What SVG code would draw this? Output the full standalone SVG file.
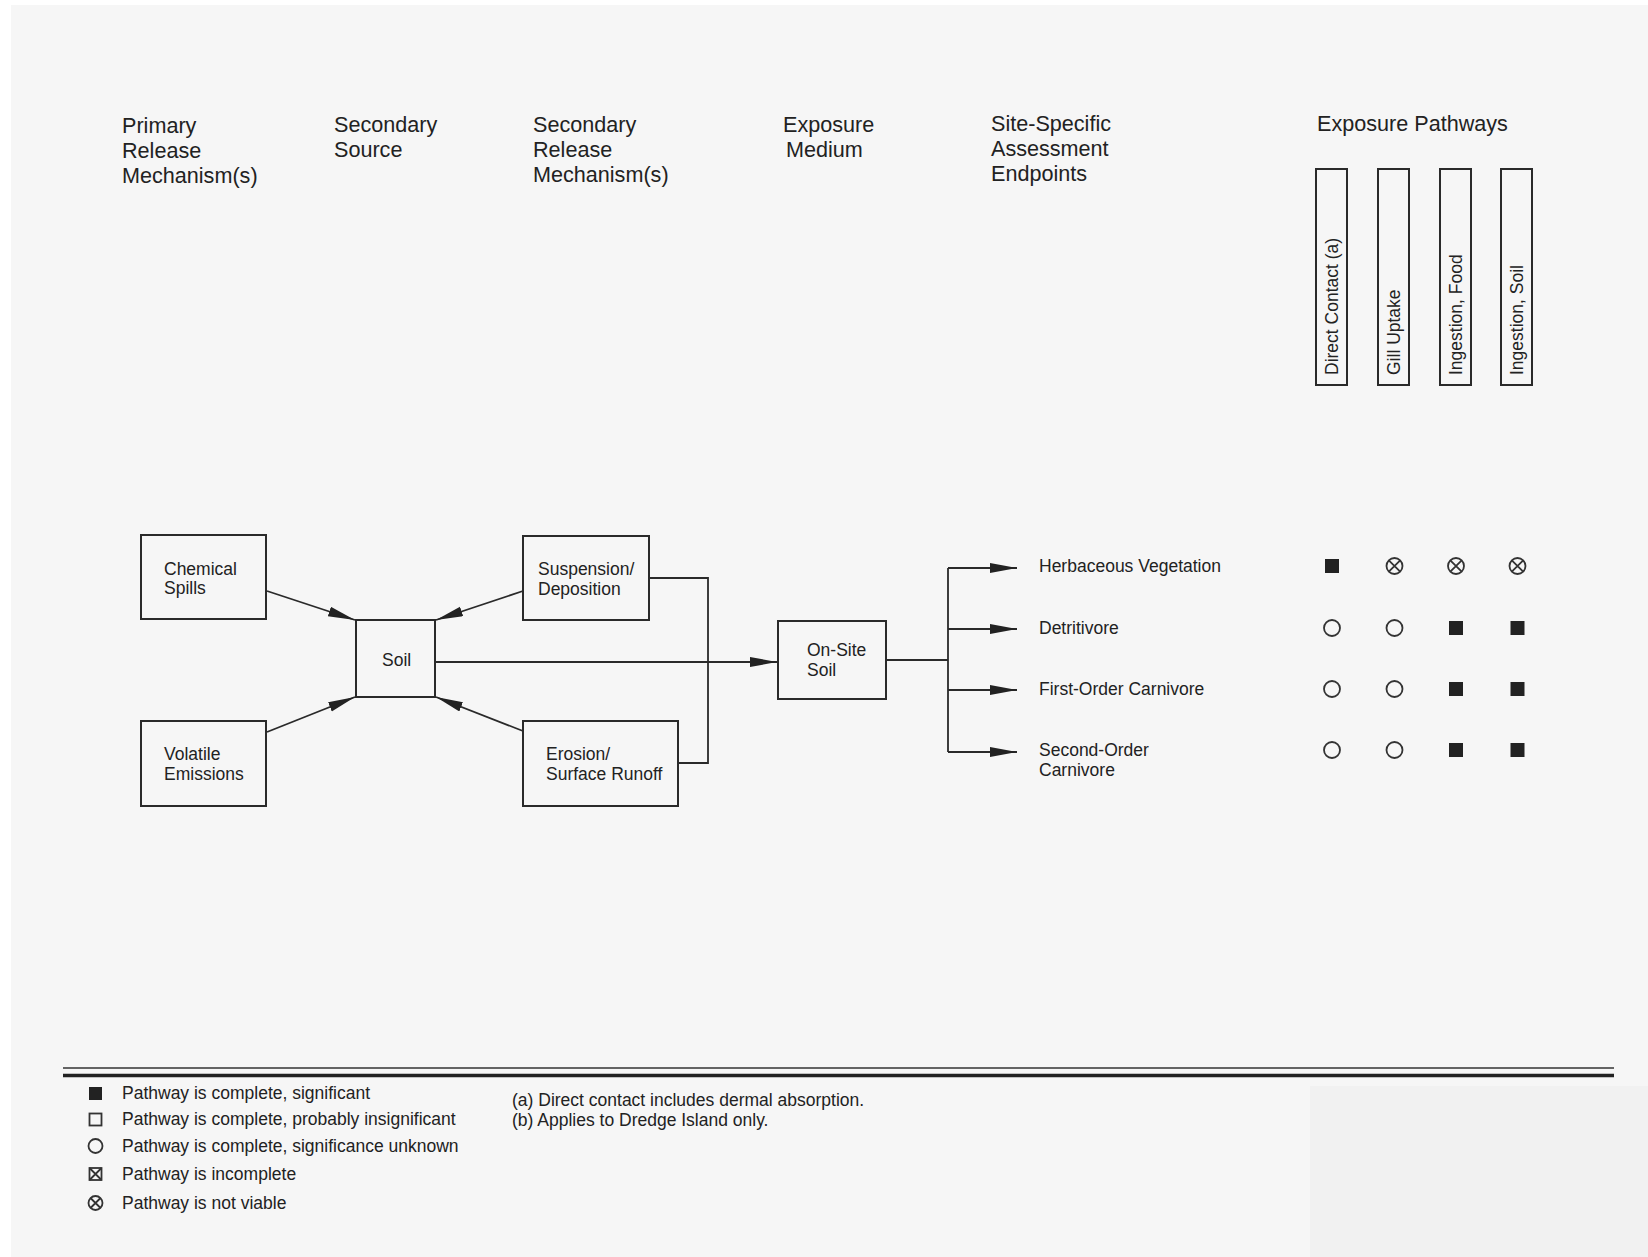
<svg xmlns="http://www.w3.org/2000/svg" width="1648" height="1257" viewBox="0 0 1648 1257">
  <defs>
    <style>
      .hdr { font-family: "Liberation Sans", Arial, sans-serif; font-size: 21.6px; fill: #222; }
      .lbl { font-family: "Liberation Sans", Arial, sans-serif; font-size: 17.5px; fill: #222; }
      .box { fill: none; stroke: #2a2a2a; stroke-width: 2; }
      .ln { fill: none; stroke: #2a2a2a; stroke-width: 1.8; }
      .sym { fill: none; stroke: #333; stroke-width: 1.8; }
      .fill { fill: #222; stroke: none; }
    </style>
    <marker id="arr" markerUnits="userSpaceOnUse" markerWidth="30" markerHeight="12" refX="27" refY="5" orient="auto">
      <path d="M0,0 L27,5 L0,10 z" fill="#222"/>
    </marker>
  </defs>

  <!-- background -->
  <rect x="0" y="0" width="1648" height="1257" fill="#ffffff"/>
  <rect x="11" y="5" width="1637" height="1252" fill="#f6f6f6"/>
  <rect x="1310" y="1086" width="338" height="171" fill="#f1f1f1"/>

  <!-- column headers -->
  <g id="headers">
    <text class="hdr" x="122" y="133">Primary</text>
    <text class="hdr" x="122" y="158">Release</text>
    <text class="hdr" x="122" y="183">Mechanism(s)</text>
    <text class="hdr" x="334" y="132">Secondary</text>
    <text class="hdr" x="334" y="157">Source</text>
    <text class="hdr" x="533" y="132">Secondary</text>
    <text class="hdr" x="533" y="157">Release</text>
    <text class="hdr" x="533" y="182">Mechanism(s)</text>
    <text class="hdr" x="783" y="132">Exposure</text>
    <text class="hdr" x="786" y="157">Medium</text>
    <text class="hdr" x="991" y="131">Site-Specific</text>
    <text class="hdr" x="991" y="156">Assessment</text>
    <text class="hdr" x="991" y="181">Endpoints</text>
    <text class="hdr" x="1317" y="131">Exposure Pathways</text>
  </g>

  <!-- pathway column headers -->
  <g id="pathway-direct-contact">
    <rect class="box" x="1316" y="169" width="31" height="216"/>
    <text class="lbl" transform="translate(1337.5,375) rotate(-90)">Direct Contact (a)</text>
  </g>
  <g id="pathway-gill-uptake">
    <rect class="box" x="1378" y="169" width="31" height="216"/>
    <text class="lbl" transform="translate(1399.5,375) rotate(-90)">Gill Uptake</text>
  </g>
  <g id="pathway-ingestion-food">
    <rect class="box" x="1440" y="169" width="31" height="216"/>
    <text class="lbl" transform="translate(1461.5,375) rotate(-90)">Ingestion, Food</text>
  </g>
  <g id="pathway-ingestion-soil">
    <rect class="box" x="1501" y="169" width="31" height="216"/>
    <text class="lbl" transform="translate(1522.5,375) rotate(-90)">Ingestion, Soil</text>
  </g>

  <!-- nodes -->
  <g id="chemical-spills">
    <rect class="box" x="141" y="535" width="125" height="84"/>
    <text class="lbl" x="164" y="575">Chemical</text>
    <text class="lbl" x="164" y="594">Spills</text>
  </g>
  <g id="volatile-emissions">
    <rect class="box" x="141" y="721" width="125" height="85"/>
    <text class="lbl" x="164" y="760">Volatile</text>
    <text class="lbl" x="164" y="780">Emissions</text>
  </g>
  <g id="soil">
    <rect class="box" x="356" y="620" width="79" height="77"/>
    <text class="lbl" x="382" y="666">Soil</text>
  </g>
  <g id="suspension-deposition">
    <rect class="box" x="523" y="536" width="126" height="84"/>
    <text class="lbl" x="538" y="575">Suspension/</text>
    <text class="lbl" x="538" y="595">Deposition</text>
  </g>
  <g id="erosion-runoff">
    <rect class="box" x="523" y="721" width="155" height="85"/>
    <text class="lbl" x="546" y="760">Erosion/</text>
    <text class="lbl" x="546" y="780">Surface Runoff</text>
  </g>
  <g id="on-site-soil">
    <rect class="box" x="778" y="621" width="108" height="78"/>
    <text class="lbl" x="807" y="656">On-Site</text>
    <text class="lbl" x="807" y="676">Soil</text>
  </g>

  <!-- endpoints -->
  <g id="endpoint-herbaceous">
    <text class="lbl" x="1039" y="572">Herbaceous Vegetation</text>
  </g>
  <g id="endpoint-detritivore">
    <text class="lbl" x="1039" y="634">Detritivore</text>
  </g>
  <g id="endpoint-first-order">
    <text class="lbl" x="1039" y="695">First-Order Carnivore</text>
  </g>
  <g id="endpoint-second-order">
    <text class="lbl" x="1039" y="756">Second-Order</text>
    <text class="lbl" x="1039" y="776">Carnivore</text>
  </g>

  <!-- connectors -->
  <g id="connectors">
    <line class="ln" x1="267" y1="591" x2="355" y2="620" marker-end="url(#arr)"/>
    <line class="ln" x1="267" y1="732" x2="355" y2="697" marker-end="url(#arr)"/>
    <line class="ln" x1="523" y1="591" x2="436" y2="620" marker-end="url(#arr)"/>
    <line class="ln" x1="523" y1="731" x2="436" y2="697" marker-end="url(#arr)"/>
    <polyline class="ln" points="649,578 708,578 708,763 678,763"/>
    <line class="ln" x1="435" y1="662" x2="777" y2="662" marker-end="url(#arr)"/>
    <line class="ln" x1="886" y1="660" x2="948" y2="660"/>
    <line class="ln" x1="948" y1="568" x2="948" y2="752"/>
    <line class="ln" x1="948" y1="568" x2="1017" y2="568" marker-end="url(#arr)"/>
    <line class="ln" x1="948" y1="629" x2="1017" y2="629" marker-end="url(#arr)"/>
    <line class="ln" x1="948" y1="690" x2="1017" y2="690" marker-end="url(#arr)"/>
    <line class="ln" x1="948" y1="752" x2="1017" y2="752" marker-end="url(#arr)"/>
  </g>

  <!-- symbol matrix -->
  <g id="matrix">
    <!-- row 1 -->
    <rect class="fill" x="1325" y="559" width="14" height="14"/>
    <g class="sym"><circle cx="1394.5" cy="566" r="8"/><path d="M1388.8,560.3 L1400.2,571.7 M1400.2,560.3 L1388.8,571.7"/></g>
    <g class="sym"><circle cx="1456" cy="566" r="8"/><path d="M1450.3,560.3 L1461.7,571.7 M1461.7,560.3 L1450.3,571.7"/></g>
    <g class="sym"><circle cx="1517.5" cy="566" r="8"/><path d="M1511.8,560.3 L1523.2,571.7 M1523.2,560.3 L1511.8,571.7"/></g>
    <!-- row 2 -->
    <circle class="sym" cx="1332" cy="628" r="8"/>
    <circle class="sym" cx="1394.5" cy="628" r="8"/>
    <rect class="fill" x="1449" y="621" width="14" height="14"/>
    <rect class="fill" x="1510.5" y="621" width="14" height="14"/>
    <!-- row 3 -->
    <circle class="sym" cx="1332" cy="689" r="8"/>
    <circle class="sym" cx="1394.5" cy="689" r="8"/>
    <rect class="fill" x="1449" y="682" width="14" height="14"/>
    <rect class="fill" x="1510.5" y="682" width="14" height="14"/>
    <!-- row 4 -->
    <circle class="sym" cx="1332" cy="750" r="8"/>
    <circle class="sym" cx="1394.5" cy="750" r="8"/>
    <rect class="fill" x="1449" y="743" width="14" height="14"/>
    <rect class="fill" x="1510.5" y="743" width="14" height="14"/>
  </g>

  <!-- rule -->
  <g id="rule">
    <line x1="63" y1="1068" x2="1614" y2="1068" stroke="#333" stroke-width="1.6"/>
    <line x1="63" y1="1075.5" x2="1614" y2="1075.5" stroke="#222" stroke-width="3.5"/>
  </g>

  <!-- legend -->
  <g id="legend">
    <rect class="fill" x="89" y="1087" width="13" height="13"/>
    <text class="lbl" x="122" y="1099">Pathway is complete, significant</text>
    <rect class="sym" x="89.5" y="1113.5" width="12" height="12" stroke-width="1.5"/>
    <text class="lbl" x="122" y="1125">Pathway is complete, probably insignificant</text>
    <circle class="sym" cx="95.5" cy="1146" r="7" stroke-width="1.5"/>
    <text class="lbl" x="122" y="1152">Pathway is complete, significance unknown</text>
    <g class="sym" stroke-width="1.5"><rect x="89.5" y="1168" width="12" height="12"/><path d="M89.5,1168 L101.5,1180 M101.5,1168 L89.5,1180"/></g>
    <text class="lbl" x="122" y="1180">Pathway is incomplete</text>
    <g class="sym" stroke-width="1.5"><circle cx="95.5" cy="1203" r="7"/><path d="M90.5,1198 L100.5,1208 M100.5,1198 L90.5,1208"/></g>
    <text class="lbl" x="122" y="1209">Pathway is not viable</text>
    <text class="lbl" x="512" y="1106">(a) Direct contact includes dermal absorption.</text>
    <text class="lbl" x="512" y="1126">(b) Applies to Dredge Island only.</text>
  </g>
</svg>
